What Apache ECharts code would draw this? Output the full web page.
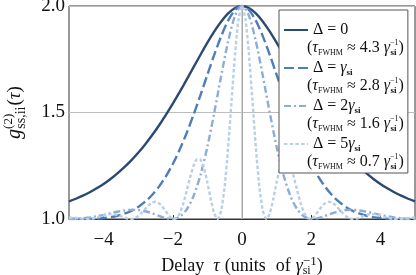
<!DOCTYPE html>
<html><head><meta charset="utf-8">
<script src="https://cdn.jsdelivr.net/npm/echarts@6/dist/echarts.min.js"></script>
<style>html,body{margin:0;padding:0;background:#fff}#c{width:416px;height:275px}</style>
</head><body><div id="c"></div>
<script>
// tau grid (units of 1/gamma_si)
const tauCoarse = [-5,-4.8,-4.6,-4.4,-4.2,-4,-3.8,-3.6,-3.4,-3.2,-3,-2.8,-2.6,-2.4,-2.2,-2,-1.8,-1.6,-1.4,-1.2,-1,-0.8,-0.6,-0.4,-0.2,0,0.2,0.4,0.6,0.8,1,1.2,1.4,1.6,1.8,2,2.2,2.4,2.6,2.8,3,3.2,3.4,3.6,3.8,4,4.2,4.4,4.6,4.8,5];
const tauFine = [-5,-4.9,-4.8,-4.7,-4.6,-4.5,-4.4,-4.3,-4.2,-4.1,-4,-3.9,-3.8,-3.7,-3.6,-3.5,-3.4,-3.3,-3.2,-3.1,-3,-2.9,-2.8,-2.7,-2.6,-2.5,-2.4,-2.3,-2.2,-2.1,-2,-1.9,-1.8,-1.7,-1.6,-1.5,-1.4,-1.3,-1.2,-1.1,-1,-0.9,-0.8,-0.7,-0.6,-0.5,-0.4,-0.3,-0.2,-0.1,0,0.1,0.2,0.3,0.4,0.5,0.6,0.7,0.8,0.9,1,1.1,1.2,1.3,1.4,1.5,1.6,1.7,1.8,1.9,2,2.1,2.2,2.3,2.4,2.5,2.6,2.7,2.8,2.9,3,3.1,3.2,3.3,3.4,3.5,3.6,3.7,3.8,3.9,4,4.1,4.2,4.3,4.4,4.5,4.6,4.7,4.8,4.9,5];

// g2 values, Delta = 0
const gDelta0 = [1.0825,1.0951,1.1095,1.1258,1.1442,1.1648,1.1881,1.2142,1.2433,1.2755,1.3112,1.3503,1.3929,1.4391,1.4886,1.5413,1.5967,1.6542,1.7127,1.7711,1.8277,1.8807,1.9275,1.9653,1.9907,2.0000,1.9907,1.9653,1.9275,1.8807,1.8277,1.7711,1.7127,1.6542,1.5967,1.5413,1.4886,1.4391,1.3929,1.3503,1.3112,1.2755,1.2433,1.2142,1.1881,1.1648,1.1442,1.1258,1.1095,1.0951,1.0825];
// Delta = gamma_si
const gDelta1 = [1.0003,1.0000,1.0001,1.0006,1.0019,1.0045,1.0087,1.0152,1.0248,1.0384,1.0568,1.0812,1.1126,1.1520,1.2004,1.2584,1.3263,1.4037,1.4896,1.5819,1.6774,1.7717,1.8587,1.9314,1.9814,2.0000,1.9814,1.9314,1.8587,1.7717,1.6774,1.5819,1.4896,1.4037,1.3263,1.2584,1.2004,1.1520,1.1126,1.0812,1.0568,1.0384,1.0248,1.0152,1.0087,1.0045,1.0019,1.0006,1.0001,1.0000,1.0003];
// Delta = 2 gamma_si
const gDelta2 = [1.0003,1.0014,1.0037,1.0075,1.0129,1.0195,1.0269,1.0342,1.0400,1.0430,1.0421,1.0365,1.0267,1.0145,1.0038,1.0002,1.0112,1.0447,1.1083,1.2067,1.3398,1.5005,1.6733,1.8345,1.9539,2.0000,1.9539,1.8345,1.6733,1.5005,1.3398,1.2067,1.1083,1.0447,1.0112,1.0002,1.0038,1.0145,1.0267,1.0365,1.0421,1.0430,1.0400,1.0342,1.0269,1.0195,1.0129,1.0075,1.0037,1.0014,1.0003];
// Delta = 5 gamma_si (fine grid)
const gDelta5 = [1.0065,1.0059,1.0045,1.0026,1.0010,1.0000,1.0005,1.0026,1.0064,1.0113,1.0165,1.0207,1.0229,1.0223,1.0188,1.0130,1.0065,1.0015,1.0001,1.0041,1.0142,1.0295,1.0477,1.0649,1.0772,1.0809,1.0742,1.0578,1.0357,1.0142,1.0011,1.0039,1.0273,1.0715,1.1308,1.1950,1.2499,1.2812,1.2786,1.2394,1.1708,1.0908,1.0247,1.0002,1.0401,1.1548,1.3366,1.5582,1.7759,1.9384,2.0000,1.9384,1.7759,1.5582,1.3366,1.1548,1.0401,1.0002,1.0247,1.0908,1.1708,1.2394,1.2786,1.2812,1.2499,1.1950,1.1308,1.0715,1.0273,1.0039,1.0011,1.0142,1.0357,1.0578,1.0742,1.0809,1.0772,1.0649,1.0477,1.0295,1.0142,1.0041,1.0001,1.0015,1.0065,1.0130,1.0188,1.0223,1.0229,1.0207,1.0165,1.0113,1.0064,1.0026,1.0005,1.0000,1.0010,1.0026,1.0045,1.0059,1.0065];

const xTicks = [-4,-2,0,2,4];

const seriesNames = ['d0','d1','d2','d5'];
const fwhm = ['4.3','2.8','1.6','0.7'];
const legendFirst = ['{a|Δ = 0}','{a|Δ = }{i|γ}{sb|si}','{a|Δ = 2}{i|γ}{sb|si}','{a|Δ = 5}{i|γ}{sb|si}'];

const SERIF = 'Liberation Serif';
const zip = (xs, ys) => xs.map((x, k) => [x, ys[k]]);

const chart = echarts.init(document.getElementById('c'), null, {renderer: 'canvas'});
const LH = 18;
const richLegend = {
  a: {fontFamily: SERIF, fontSize: 16, lineHeight: LH, color: '#111'},
  p: {fontFamily: SERIF, fontSize: 16, lineHeight: LH, padding: [0,0,0,-6], color: '#111'},
  t: {fontFamily: SERIF, fontSize: 16, lineHeight: LH, color: '#111'},
  i: {fontFamily: SERIF, fontSize: 16, fontStyle: 'italic', lineHeight: LH, color: '#111'},
  sb: {fontFamily: SERIF, fontSize: 9, fontWeight: 'bold', lineHeight: 11, verticalAlign: 'bottom', color: '#111'},
  sq: {fontFamily: SERIF, fontSize: 9, fontWeight: 'bold', lineHeight: 11, verticalAlign: 'bottom', padding: [0,2,0,-8], color: '#111'},
  sc: {fontFamily: SERIF, fontSize: 8, lineHeight: 11, verticalAlign: 'bottom', color: '#111'},
  sp: {fontFamily: SERIF, fontSize: 8, lineHeight: 10, verticalAlign: 'top', color: '#111'}
};

const mk = (name, data, color, type, smooth) => ({
  name, type: 'line', data, symbol: 'none', smooth, clip: true,
  lineStyle: {color, width: 2.4, type}, itemStyle: {color}
});

const series = [
  mk('d0', zip(tauCoarse, gDelta0), '#2b4a73', 'solid', 0.3),
  mk('d1', zip(tauCoarse, gDelta1), '#4f7db8', [10,4], 0.3),
  mk('d2', zip(tauCoarse, gDelta2), '#8badd6', [7,3,2,3], 0.3),
  mk('d5', zip(tauFine, gDelta5), '#b9cfe8', [3.5,2.2], 0.2)
];
series[0].markLine = {
  silent: true, symbol: 'none', label: {show: false}, z: 10,
  lineStyle: {color: '#c9c9c9', width: 1.6, type: 'solid'},
  data: [{xAxis: 0}]
};

chart.setOption({
  animation: false,
  backgroundColor: '#fff',
  grid: {left: 69, right: 1, top: 6, bottom: 56, containLabel: false, outerBoundsMode: 'none',
    show: true, borderColor: '#333', borderWidth: 1, backgroundColor: 'transparent'},
  xAxis: {
    type: 'value', min: -5, max: 5, interval: 1,
    axisLine: {show: true, lineStyle: {color: '#333', width: 1}},
    axisTick: {show: true, inside: true, length: 4, customValues: xTicks, lineStyle: {color: '#333'}},
    axisLabel: {customValues: xTicks, margin: 12, fontFamily: SERIF, fontSize: 19, color: '#111',
      formatter: v => String(v).replace('-', '−')},
    splitLine: {show: false},
    name: '{t|Delay}{i|τ}{q|(units}{r|of}{g|γ}{sp|−1}{sb|si}{c|)}',
    nameLocation: 'middle', nameGap: 33,
    nameTextStyle: {fontFamily: SERIF, fontSize: 18, color: '#111', lineHeight: 22,
      rich: {
        t: {fontFamily: SERIF, fontSize: 18, lineHeight: 22, padding: [0,9,0,0], color: '#111'},
        i: {fontFamily: SERIF, fontSize: 18, fontStyle: 'italic', lineHeight: 22, padding: [0,5,0,0], color: '#111'},
        g: {fontFamily: SERIF, fontSize: 18, fontStyle: 'italic', lineHeight: 22, color: '#111'},
        q: {fontFamily: SERIF, fontSize: 18, lineHeight: 22, padding: [0,10,0,0], color: '#111'},
        r: {fontFamily: SERIF, fontSize: 18, lineHeight: 22, padding: [0,5,0,0], color: '#111'},
        c: {fontFamily: SERIF, fontSize: 18, lineHeight: 22, color: '#111'},
        sp: {fontFamily: SERIF, fontSize: 13, lineHeight: 14, verticalAlign: 'top', color: '#111'},
        sb: {fontFamily: SERIF, fontSize: 12, lineHeight: 12, verticalAlign: 'bottom', padding: [0,6,0,-14], color: '#111'}
      }}
  },
  yAxis: {
    type: 'value', min: 1, max: 2, interval: 0.5,
    axisLine: {show: true, lineStyle: {color: '#333', width: 1}},
    axisTick: {show: false},
    axisLabel: {margin: 4, fontFamily: SERIF, fontSize: 19, color: '#111', formatter: v => v.toFixed(1)},
    splitLine: {show: true, lineStyle: {color: '#bdbdbd', width: 1}},
    name: '{g|g}{sp|(2)}{sb|ss,ii}{t|(}{i|τ}{t|)}',
    nameLocation: 'middle', nameGap: 41,
    nameTextStyle: {fontFamily: SERIF, fontSize: 18, color: '#111',
      rich: {
        g: {fontFamily: SERIF, fontSize: 20, fontStyle: 'italic', lineHeight: 26, color: '#111'},
        t: {fontFamily: SERIF, fontSize: 19, lineHeight: 26, color: '#111'},
        i: {fontFamily: SERIF, fontSize: 19, fontStyle: 'italic', lineHeight: 26, color: '#111'},
        sp: {fontFamily: SERIF, fontSize: 13, lineHeight: 15, verticalAlign: 'top', color: '#111'},
        sb: {fontFamily: SERIF, fontSize: 14, lineHeight: 15, verticalAlign: 'bottom', padding: [0,1,0,-15], color: '#111'}
      }}
  },
  legend: {
    data: seriesNames, orient: 'vertical', left: 279, top: 10,
    itemWidth: 24, itemHeight: 14, itemGap: 2,
    padding: [11, 4, 2, 4],
    backgroundColor: '#fff', borderColor: '#555', borderWidth: 1, borderRadius: 0,
    itemStyle: {opacity: 0, borderWidth: 0},
    formatter: name => {
      const k = seriesNames.indexOf(name);
      return legendFirst[k] + '\n{p|(}{i|τ}{sc|FWHM}{t| ≈ ' + fwhm[k] + ' }{i|γ}{sp|−1}{sq|si}{t|)}';
    },
    textStyle: {fontFamily: SERIF, fontSize: 16, color: '#111', lineHeight: LH, padding: [0, 0, -LH, 0], rich: richLegend}
  },
  series
});
</script></body></html>
